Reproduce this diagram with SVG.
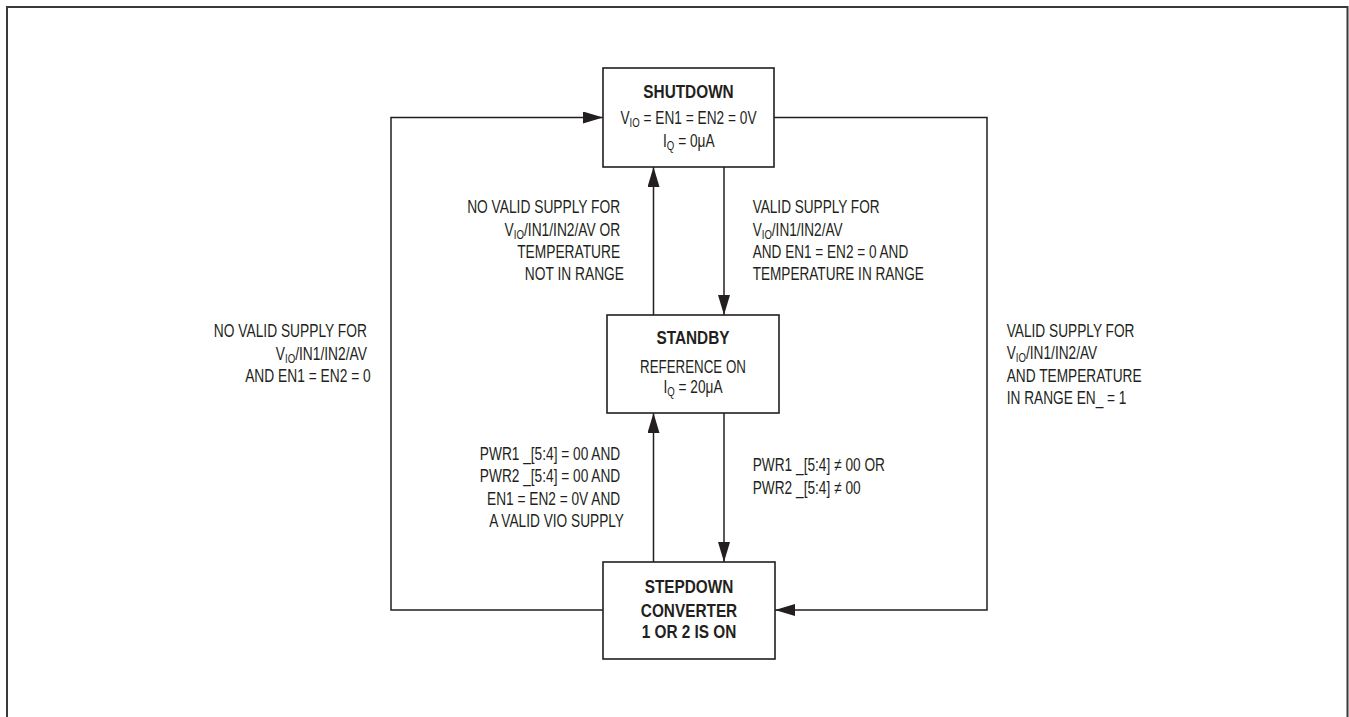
<svg xmlns="http://www.w3.org/2000/svg" width="1349" height="717" viewBox="0 0 1349 717">
<style>
.frame{fill:none;stroke:#3a3a3a;stroke-width:2}
.box{fill:#fff;stroke:#231f20;stroke-width:1.6}
.wire{fill:none;stroke:#231f20;stroke-width:1.5}
.t{font-family:"Liberation Sans",Arial,Helvetica,sans-serif;font-size:18.5px;fill:#231f20}
.b{font-weight:bold}
.sub{font-size:13px}
.e{text-anchor:end}
.m{text-anchor:middle}
</style>
<defs>
<marker id="arr" markerUnits="userSpaceOnUse" viewBox="0 0 20 12" refX="20" refY="6" markerWidth="20" markerHeight="12" orient="auto">
<path d="M0,0 L20,6 L0,12 z" fill="#231f20"/>
</marker>
</defs>
<rect width="1349" height="717" fill="#fff"/>
<rect class="frame" x="7" y="7" width="1340.5" height="730"/>

<g id="connectors">
<line class="wire" x1="724" y1="167" x2="724" y2="315" marker-end="url(#arr)"/>
<line class="wire" x1="653.5" y1="315" x2="653.5" y2="167" marker-end="url(#arr)"/>
<line class="wire" x1="724" y1="413" x2="724" y2="562" marker-end="url(#arr)"/>
<line class="wire" x1="653.5" y1="562" x2="653.5" y2="413" marker-end="url(#arr)"/>
<path class="wire" d="M603,610 H391 V117.5 H603" marker-end="url(#arr)"/>
<path class="wire" d="M774,117.5 H987 V610 H775" marker-end="url(#arr)"/>
</g>

<g id="shutdown">
<rect class="box" x="603" y="68" width="171" height="99"/>
<text class="t b m" transform="translate(688.5 97.7) scale(0.83 1)" x="0" y="0">SHUTDOWN</text>
<text class="t m" transform="translate(688.5 124.3) scale(0.74 1)" x="0" y="0">V<tspan class="sub" dy="3">IO</tspan><tspan dy="-3"> = EN1 = EN2 = 0V</tspan></text>
<text class="t m" transform="translate(688.8 146.7) scale(0.74 1)" x="0" y="0">I<tspan class="sub" dy="3">Q</tspan><tspan dy="-3"> = 0μA</tspan></text>
</g>

<g id="standby">
<rect class="box" x="607" y="315" width="172" height="98"/>
<text class="t b m" transform="translate(693 344.3) scale(0.83 1)" x="0" y="0">STANDBY</text>
<text class="t m" transform="translate(693 372.7) scale(0.72 1)" x="0" y="0">REFERENCE ON</text>
<text class="t m" transform="translate(693 393.3) scale(0.74 1)" x="0" y="0">I<tspan class="sub" dy="3">Q</tspan><tspan dy="-3"> = 20μA</tspan></text>
</g>

<g id="stepdown">
<rect class="box" x="603" y="562" width="172" height="97"/>
<text class="t b m" transform="translate(689 593.3) scale(0.83 1)" x="0" y="0">STEPDOWN</text>
<text class="t b m" transform="translate(689 616.7) scale(0.83 1)" x="0" y="0">CONVERTER</text>
<text class="t b m" transform="translate(689 638.3) scale(0.83 1)" x="0" y="0">1 OR 2 IS ON</text>
</g>

<g id="labels">
<text class="t e" transform="translate(624 213.3) scale(0.745 1)">
<tspan x="0" y="0">NO VALID SUPPLY FOR</tspan>
<tspan x="0" y="22.3">V<tspan class="sub" dy="3">IO</tspan><tspan dy="-3">/IN1/IN2/AV OR</tspan></tspan>
<tspan x="0" y="44.8">TEMPERATURE</tspan>
<tspan x="0" y="67">NOT IN RANGE</tspan>
</text>
<text class="t" transform="translate(752.7 213.3) scale(0.735 1)">
<tspan x="0" y="0">VALID SUPPLY FOR</tspan>
<tspan x="0" y="22.3">V<tspan class="sub" dy="3">IO</tspan><tspan dy="-3">/IN1/IN2/AV</tspan></tspan>
<tspan x="0" y="44.8">AND EN1 = EN2 = 0 AND</tspan>
<tspan x="0" y="67">TEMPERATURE IN RANGE</tspan>
</text>
<text class="t e" transform="translate(624 460) scale(0.74 1)">
<tspan x="0" y="0">PWR1 _[5:4] = 00 AND</tspan>
<tspan x="0" y="22.5">PWR2 _[5:4] = 00 AND</tspan>
<tspan x="0" y="45">EN1 = EN2 = 0V AND</tspan>
<tspan x="0" y="67">A VALID VIO SUPPLY</tspan>
</text>
<text class="t" transform="translate(752.7 470.7) scale(0.74 1)">
<tspan x="0" y="0">PWR1 _[5:4] ≠ 00 OR</tspan>
<tspan x="0" y="23.3">PWR2 _[5:4] ≠ 00</tspan>
</text>
<text class="t e" transform="translate(370.7 337.3) scale(0.745 1)">
<tspan x="0" y="0">NO VALID SUPPLY FOR</tspan>
<tspan x="0" y="22.5">V<tspan class="sub" dy="3">IO</tspan><tspan dy="-3">/IN1/IN2/AV</tspan></tspan>
<tspan x="0" y="44.4">AND EN1 = EN2 = 0</tspan>
</text>
<text class="t" transform="translate(1006.7 337.3) scale(0.74 1)">
<tspan x="0" y="0">VALID SUPPLY FOR</tspan>
<tspan x="0" y="22">V<tspan class="sub" dy="3">IO</tspan><tspan dy="-3">/IN1/IN2/AV</tspan></tspan>
<tspan x="0" y="44.4">AND TEMPERATURE</tspan>
<tspan x="0" y="66.7">IN RANGE EN_ = 1</tspan>
</text>
</g>
</svg>
